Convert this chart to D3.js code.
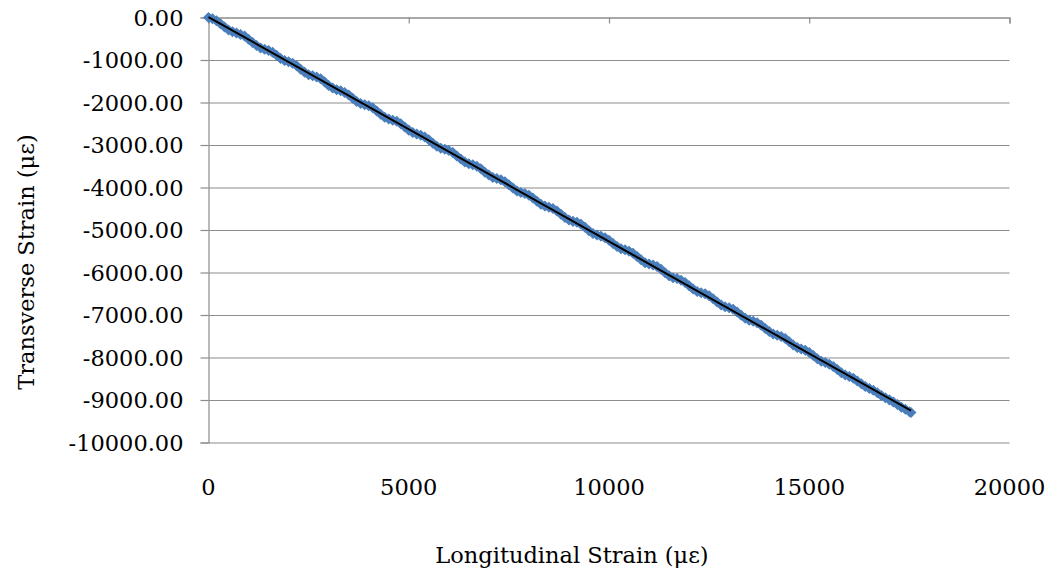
<!DOCTYPE html>
<html><head><meta charset="utf-8">
<script src="https://cdn.jsdelivr.net/npm/d3@7"></script>
<style>body{margin:0;background:#fff}svg{display:block}</style>
</head><body>
<script>
const longitudinal = [0,100,200,300,400,500,600,700,800,900,1000,1100,1200,1300,1400,1500,1600,1700,1800,1900,2000,2100,2200,2300,2400,2500,2600,2700,2800,2900,3000,3100,3200,3300,3400,3500,3600,3700,3800,3900,4000,4100,4200,4300,4400,4500,4600,4700,4800,4900,5000,5100,5200,5300,5400,5500,5600,5700,5800,5900,6000,6100,6200,6300,6400,6500,6600,6700,6800,6900,7000,7100,7200,7300,7400,7500,7600,7700,7800,7900,8000,8100,8200,8300,8400,8500,8600,8700,8800,8900,9000,9100,9200,9300,9400,9500,9600,9700,9800,9900,10000,10100,10200,10300,10400,10500,10600,10700,10800,10900,11000,11100,11200,11300,11400,11500,11600,11700,11800,11900,12000,12100,12200,12300,12400,12500,12600,12700,12800,12900,13000,13100,13200,13300,13400,13500,13600,13700,13800,13900,14000,14100,14200,14300,14400,14500,14600,14700,14800,14900,15000,15100,15200,15300,15400,15500,15600,15700,15800,15900,16000,16100,16200,16300,16400,16500,16600,16700,16800,16900,17000,17100,17200,17300,17400,17500,17540];
const transverse = [0,-28,-75,-148,-225,-293,-336,-363,-401,-438,-511,-589,-656,-719,-746,-774,-817,-889,-967,-1014,-1042,-1075,-1137,-1215,-1287,-1345,-1373,-1400,
-1443,-1515,-1598,-1661,-1698,-1726,-1763,-1821,-1899,-1976,-2024,-2051,-2079,-2122,-2199,-2277,-2349,-2387,-2415,-2442,-2500,-2577,-2650,-2708,-2740,-2773,-2810,-2878,
-2956,-3028,-3076,-3098,-3131,-3179,-3256,-3329,-3401,-3439,-3462,-3499,-3557,-3639,-3707,-3765,-3787,-3820,-3862,-3935,-4013,-4080,-4118,-4140,-4183,-4246,-4323,-4396,
-4438,-4466,-4494,-4551,-4629,-4706,-4764,-4797,-4819,-4862,-4934,-5017,-5085,-5117,-5145,-5182,-5240,-5318,-5390,-5443,-5465,-5498,-5546,-5623,-5701,-5768,-5801,-5824,
-5861,-5924,-6006,-6079,-6122,-6144,-6182,-6234,-6312,-6390,-6447,-6475,-6502,-6545,-6618,-6695,-6763,-6805,-6828,-6866,-6928,-7006,-7078,-7126,-7149,-7181,-7239,-7316,
-7389,-7447,-7474,-7507,-7554,-7627,-7705,-7767,-7800,-7832,-7880,-7953,-8030,-8088,-8120,-8158,-8211,-8283,-8356,-8413,-8446,-8489,-8551,-8619,-8681,-8729,-8772,-8829,-8892,-8949,-8997,-9045,-9107,-9170,-9217,-9275,-9296];
const xTicks = [0,5000,10000,15000,20000];
const yTicks = [0,-1000,-2000,-3000,-4000,-5000,-6000,-7000,-8000,-9000,-10000];
const xTitle = "Longitudinal Strain (\u03bc\u03b5)";
const yTitle = "Transverse Strain (\u03bc\u03b5)";

const W = 1050, H = 571;
const pLeft = 208.5, pRight = 1009.5, pTop = 17.5, pBottom = 442.5;
const svg = d3.select("body").append("svg").attr("width", W).attr("height", H);
const x = d3.scaleLinear().domain([0, 20000]).range([pLeft, pRight]);
const y = d3.scaleLinear().domain([-10000, 0]).range([pBottom, pTop]);
const font = "'DejaVu Serif', serif";
const fs = 22.5;
const gridCol = "#8c8c8c";

// gridlines + y axis
const yAxis = d3.axisLeft(y).tickValues(yTicks).tickSize(8);
const gy = svg.append("g").attr("transform", `translate(${pLeft},0)`).call(yAxis);
gy.select(".domain").attr("stroke", gridCol).attr("stroke-width", 1.2);
gy.selectAll(".tick line").attr("stroke", gridCol).attr("stroke-width", 1.2);
gy.selectAll(".tick text").attr("font-family", font).attr("font-size", fs).attr("fill", "#000").attr("x", -25).attr("dy", "0.35em").text(d => d3.format(".2f")(d).replace("\u2212","-"));
gy.selectAll(".tick").append("line").attr("x1", 0).attr("x2", pRight - pLeft).attr("stroke", gridCol).attr("stroke-width", 1.2);

// x axis at top (y = 0) with ticks pointing down, labels at bottom
const xAxis = d3.axisBottom(x).tickValues(xTicks).tickSize(6).tickFormat("");
const gx = svg.append("g").attr("transform", `translate(0,${pTop})`).call(xAxis);
gx.select(".domain").attr("stroke", gridCol).attr("stroke-width", 1.2);
gx.selectAll(".tick line").attr("stroke", gridCol).attr("stroke-width", 1.2);
svg.append("g").selectAll("text").data(xTicks).join("text")
  .attr("x", d => x(d)).attr("y", 495).attr("text-anchor", "middle")
  .attr("font-family", font).attr("font-size", fs).attr("fill", "#000").text(d => d);

// data markers
const pts = longitudinal.map((v, i) => [v, transverse[i]]);
svg.append("g").selectAll("path").data(pts).join("path")
  .attr("d", d3.symbol(d3.symbolSquare).size(46))
  .attr("transform", d => `translate(${x(d[0])},${y(d[1])}) rotate(45)`)
  .attr("fill", "#4a7ebb").attr("stroke", "#4a7ebb").attr("stroke-width", 1);

// linear trendline (least squares)
const mx = d3.mean(longitudinal), my = d3.mean(transverse);
const slope = d3.sum(pts, d => (d[0]-mx)*(d[1]-my)) / d3.sum(pts, d => (d[0]-mx)**2);
const icpt = my - slope*mx;
const x0 = d3.min(longitudinal), x1 = d3.max(longitudinal);
svg.append("line").attr("x1", x(x0)).attr("y1", y(icpt + slope*x0)).attr("x2", x(x1)).attr("y2", y(icpt + slope*x1))
  .attr("stroke", "#000").attr("stroke-width", 2);

// titles
svg.append("text").attr("x", 572).attr("y", 563).attr("text-anchor", "middle")
  .attr("font-family", font).attr("font-size", fs).attr("fill", "#000").text(xTitle);
svg.append("text").attr("transform", "translate(34,262) rotate(-90)").attr("text-anchor", "middle")
  .attr("font-family", font).attr("font-size", fs).attr("fill", "#000").text(yTitle);
</script>
</body></html>
